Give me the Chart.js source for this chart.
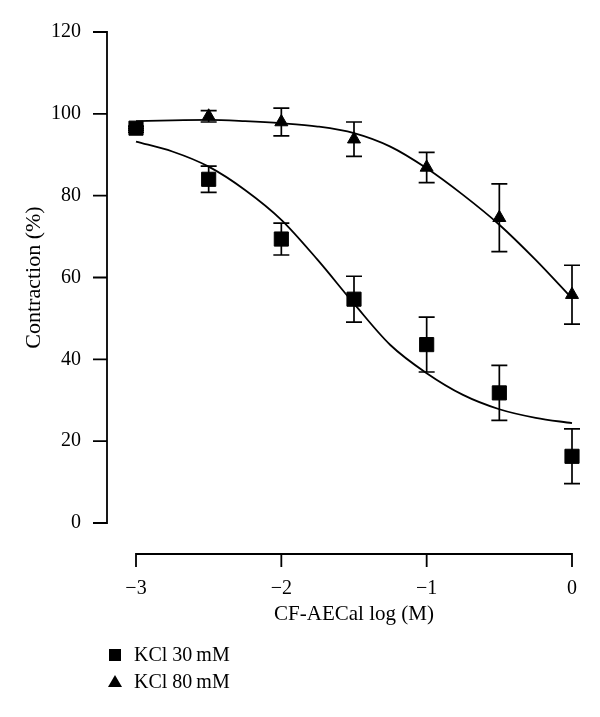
<!DOCTYPE html>
<html>
<head>
<meta charset="utf-8">
<script src="https://cdn.jsdelivr.net/npm/chart.js@4/dist/chart.umd.min.js"></script>
<style>
  html, body { margin: 0; padding: 0; background: #fff; }
  canvas { display: block; }
</style>
</head>
<body>
<canvas id="c" width="600" height="717"></canvas>
<script>
// ---- data ----
const doseLog = [-3, -2.5, -2, -1.5, -1, -0.5, 0];
const kcl30 = [96.5, 84.0, 69.4, 54.7, 43.6, 31.8, 16.3];
const kcl30Err = [0.5, 3.2, 3.9, 5.6, 6.7, 6.7, 6.7];
const kcl80 = [96.0, 99.4, 98.0, 93.8, 86.9, 74.6, 55.8];
const kcl80Err = [0.5, 1.4, 3.4, 4.2, 3.7, 8.3, 7.2];

// fitted curves
const fitX = [-3, -2.75, -2.5, -2.25, -2, -1.75, -1.5, -1.25, -1, -0.75, -0.5, -0.25, 0];
const fit30 = [93.2, 90.8, 87.1, 81.4, 74.1, 64.3, 53.6, 43.5, 36.6, 31.3, 27.8, 25.7, 24.4];
const fit80 = [98.2, 98.4, 98.5, 98.2, 97.7, 96.9, 95.3, 92.0, 86.7, 80.2, 72.9, 64.3, 54.9];

const seriesLabels = ['KCl 30\u2009mM', 'KCl 80\u2009mM'];
const xTickValues = [-3, -2, -1, 0];
const xTickLabels = ['\u22123', '\u22122', '\u22121', '0'];
const yTickValues = [0, 20, 40, 60, 80, 100, 120];
const yTickLabels = ['0', '20', '40', '60', '80', '100', '120'];
const xTitle = 'CF-AECal log (M)';
const yTitle = 'Contraction (%)';

const FONT = "'Liberation Serif', 'Times New Roman', serif";
const toPts = (xs, ys) => xs.map((x, i) => ({ x: x, y: ys[i] }));

// error bars
const errorBars = {
  id: 'errorBars',
  beforeDatasetsDraw(chart) {
    const { ctx, scales: { x, y } } = chart;
    const sets = [[kcl30, kcl30Err], [kcl80, kcl80Err]];
    ctx.save();
    ctx.strokeStyle = '#000';
    ctx.lineWidth = 1.7;
    sets.forEach(([vals, errs]) => {
      vals.forEach((v, i) => {
        const px = x.getPixelForValue(doseLog[i]);
        const top = y.getPixelForValue(v + errs[i]);
        const bot = y.getPixelForValue(v - errs[i]);
        ctx.beginPath();
        ctx.moveTo(px, top); ctx.lineTo(px, bot);
        ctx.moveTo(px - 8, top); ctx.lineTo(px + 8, top);
        ctx.moveTo(px - 8, bot); ctx.lineTo(px + 8, bot);
        ctx.stroke();
      });
    });
    ctx.restore();
  }
};

// offset axes (separated from the plot area)
const offsetAxes = {
  id: 'offsetAxes',
  afterDraw(chart) {
    const { ctx, chartArea, scales: { x, y } } = chart;
    ctx.save();
    ctx.strokeStyle = '#000';
    ctx.lineWidth = 1.8;
    ctx.lineCap = 'butt';
    // y axis
    const ax = chartArea.left - 29;
    ctx.beginPath();
    ctx.moveTo(ax, y.getPixelForValue(yTickValues[0]) + 0.9);
    ctx.lineTo(ax, y.getPixelForValue(yTickValues[yTickValues.length - 1]) - 0.9);
    yTickValues.forEach(v => {
      const py = y.getPixelForValue(v);
      ctx.moveTo(ax + 0.9, py); ctx.lineTo(ax - 14, py);
    });
    ctx.stroke();
    // x axis
    const ay = chartArea.bottom + 31;
    ctx.beginPath();
    ctx.moveTo(x.getPixelForValue(xTickValues[0]) - 0.9, ay);
    ctx.lineTo(x.getPixelForValue(xTickValues[xTickValues.length - 1]) + 0.9, ay);
    xTickValues.forEach(v => {
      const px = x.getPixelForValue(v);
      ctx.moveTo(px, ay - 0.9); ctx.lineTo(px, ay + 13);
    });
    ctx.stroke();
    ctx.restore();
  }
};

// legend at bottom-left, stacked
const stackedLegend = {
  id: 'stackedLegend',
  afterDraw(chart) {
    const { ctx } = chart;
    const items = chart.data.datasets.filter(d => d.inLegend);
    ctx.save();
    ctx.fillStyle = '#000';
    ctx.font = '20px ' + FONT;
    ctx.textBaseline = 'middle';
    ctx.textAlign = 'left';
    items.forEach((d, i) => {
      const cy = 655 + i * 26.5;
      const cx = 115;
      ctx.beginPath();
      if (d.pointStyle === 'rect') {
        ctx.rect(cx - 6, cy - 6, 12, 12);
      } else {
        ctx.moveTo(cx, cy - 6.5);
        ctx.lineTo(cx + 7, cy + 5.5);
        ctx.lineTo(cx - 7, cy + 5.5);
        ctx.closePath();
      }
      ctx.fill();
      ctx.fillText(d.label, 134, cy + 1);
    });
    ctx.restore();
  }
};

const zeroPad = s => { s.paddingLeft = 0; s.paddingRight = 0; s.paddingTop = 0; s.paddingBottom = 0; };

new Chart(document.getElementById('c'), {
  type: 'scatter',
  data: {
    datasets: [
      {
        label: seriesLabels[0], inLegend: true, data: toPts(doseLog, kcl30),
        pointStyle: 'rect', pointRadius: 10, borderWidth: 1,
        backgroundColor: '#000', borderColor: '#000', clip: false, order: 1
      },
      {
        label: seriesLabels[1], inLegend: true, data: toPts(doseLog, kcl80),
        pointStyle: 'triangle', pointRadius: 7.5, borderWidth: 1,
        backgroundColor: '#000', borderColor: '#000', clip: false, order: 2
      },
      {
        label: 'fit30', data: toPts(fitX, fit30), showLine: true,
        borderColor: '#000', borderWidth: 1.8, pointRadius: 0,
        cubicInterpolationMode: 'monotone', fill: false, clip: false, order: 3
      },
      {
        label: 'fit80', data: toPts(fitX, fit80), showLine: true,
        borderColor: '#000', borderWidth: 1.8, pointRadius: 0,
        cubicInterpolationMode: 'monotone', fill: false, clip: false, order: 3
      }
    ]
  },
  options: {
    responsive: false,
    animation: false,
    events: [],
    layout: { padding: { left: 17, top: 32, right: 28, bottom: 86 } },
    plugins: { legend: { display: false }, tooltip: { enabled: false } },
    scales: {
      x: {
        type: 'linear', min: -3, max: 0,
        grid: { display: false, drawTicks: false },
        border: { display: false },
        afterBuildTicks(s) { s.ticks = xTickValues.map(v => ({ value: v })); },
        afterFit(s) { s.height = 108; zeroPad(s); },
        ticks: {
          color: '#000', padding: 54, font: { family: FONT, size: 20 },
          callback: v => xTickLabels[xTickValues.indexOf(v)]
        },
        title: { display: true, text: xTitle, color: '#000', font: { family: FONT, size: 21 } }
      },
      y: {
        type: 'linear', min: 0, max: 120,
        grid: { display: false, drawTicks: false },
        border: { display: false },
        afterBuildTicks(s) { s.ticks = yTickValues.map(v => ({ value: v })); },
        afterFit(s) { s.width = 119; zeroPad(s); },
        ticks: {
          color: '#000', padding: 55, font: { family: FONT, size: 20 },
          callback: v => yTickLabels[yTickValues.indexOf(v)]
        },
        title: { display: true, text: yTitle, color: '#000', font: { family: FONT, size: 22 } }
      }
    }
  },
  plugins: [errorBars, offsetAxes, stackedLegend]
});
</script>
</body>
</html>
